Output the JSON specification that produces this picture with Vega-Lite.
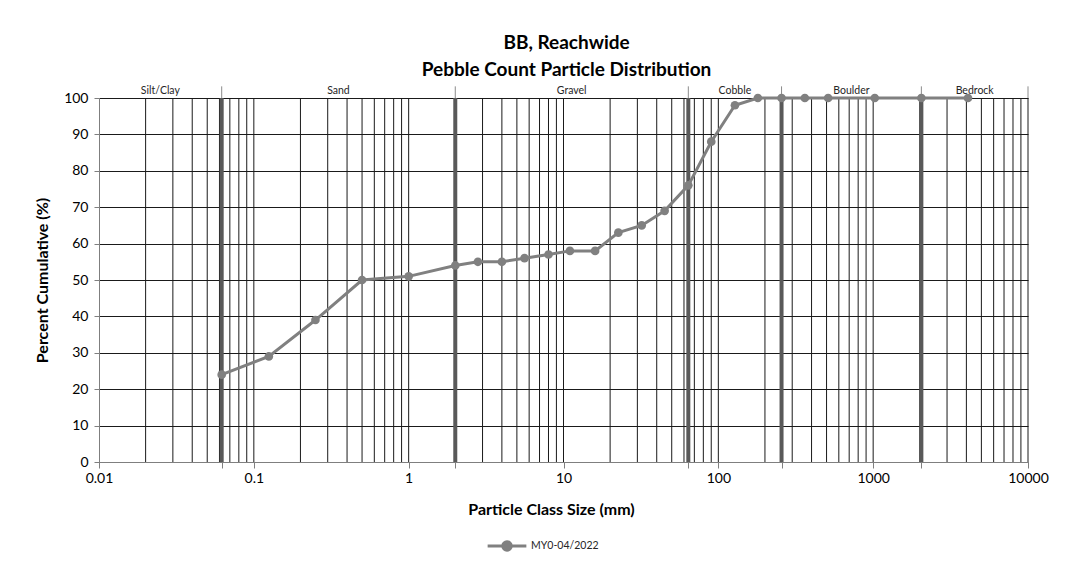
{
  "$schema": "https://vega.github.io/schema/vega-lite/v6.json",
  "width": 929,
  "height": 364,
  "autosize": "none",
  "padding": {"left": 99, "top": 98, "right": 44, "bottom": 106},
  "background": "white",
  "title": {
    "text": ["BB, Reachwide", "Pebble Count Particle Distribution"],
    "fontSize": 19,
    "fontWeight": "bold",
    "color": "#000000",
    "anchor": "middle",
    "offset": 6,
    "lineHeight": 27,
    "dx": 3
  },
  "datasets": {
    "grid": [
      {"size": 0.02}, {"size": 0.03}, {"size": 0.04}, {"size": 0.05}, {"size": 0.06}, {"size": 0.07}, {"size": 0.08}, {"size": 0.09}, {"size": 0.1},
      {"size": 0.2}, {"size": 0.3}, {"size": 0.4}, {"size": 0.5}, {"size": 0.6}, {"size": 0.7}, {"size": 0.8}, {"size": 0.9}, {"size": 1},
      {"size": 2}, {"size": 3}, {"size": 4}, {"size": 5}, {"size": 6}, {"size": 7}, {"size": 8}, {"size": 9}, {"size": 10},
      {"size": 20}, {"size": 30}, {"size": 40}, {"size": 50}, {"size": 60}, {"size": 70}, {"size": 80}, {"size": 90}, {"size": 100},
      {"size": 200}, {"size": 300}, {"size": 400}, {"size": 500}, {"size": 600}, {"size": 700}, {"size": 800}, {"size": 900}, {"size": 1000},
      {"size": 2000}, {"size": 3000}, {"size": 4000}, {"size": 5000}, {"size": 6000}, {"size": 7000}, {"size": 8000}, {"size": 9000}, {"size": 10000}
    ],
    "bounds": [
      {"size": 0.062}, {"size": 2}, {"size": 64}, {"size": 256}, {"size": 2048}
    ],
    "topticks": [
      {"size": 0.062}, {"size": 2}, {"size": 64}, {"size": 256}, {"size": 2048}, {"size": 10000}
    ],
    "classes": [
      {"size": 0.0249, "label": "Silt/Clay"},
      {"size": 0.352, "label": "Sand"},
      {"size": 11.3, "label": "Gravel"},
      {"size": 128, "label": "Cobble"},
      {"size": 724, "label": "Boulder"},
      {"size": 4525, "label": "Bedrock"}
    ],
    "counts": [
      {"size": 0.062, "pct": 24, "series": "MY0-04/2022"},
      {"size": 0.125, "pct": 29, "series": "MY0-04/2022"},
      {"size": 0.25, "pct": 39, "series": "MY0-04/2022"},
      {"size": 0.5, "pct": 50, "series": "MY0-04/2022"},
      {"size": 1, "pct": 51, "series": "MY0-04/2022"},
      {"size": 2, "pct": 54, "series": "MY0-04/2022"},
      {"size": 2.8, "pct": 55, "series": "MY0-04/2022"},
      {"size": 4, "pct": 55, "series": "MY0-04/2022"},
      {"size": 5.6, "pct": 56, "series": "MY0-04/2022"},
      {"size": 8, "pct": 57, "series": "MY0-04/2022"},
      {"size": 11, "pct": 58, "series": "MY0-04/2022"},
      {"size": 16, "pct": 58, "series": "MY0-04/2022"},
      {"size": 22.6, "pct": 63, "series": "MY0-04/2022"},
      {"size": 32, "pct": 65, "series": "MY0-04/2022"},
      {"size": 45, "pct": 69, "series": "MY0-04/2022"},
      {"size": 64, "pct": 76, "series": "MY0-04/2022"},
      {"size": 90, "pct": 88, "series": "MY0-04/2022"},
      {"size": 128, "pct": 98, "series": "MY0-04/2022"},
      {"size": 180, "pct": 100, "series": "MY0-04/2022"},
      {"size": 256, "pct": 100, "series": "MY0-04/2022"},
      {"size": 362, "pct": 100, "series": "MY0-04/2022"},
      {"size": 512, "pct": 100, "series": "MY0-04/2022"},
      {"size": 1024, "pct": 100, "series": "MY0-04/2022"},
      {"size": 2048, "pct": 100, "series": "MY0-04/2022"},
      {"size": 4096, "pct": 100, "series": "MY0-04/2022"}
    ]
  },
  "encoding": {
    "x": {
      "field": "size",
      "type": "quantitative",
      "scale": {"type": "log", "domain": [0.01, 10000], "nice": false},
      "axis": {
        "values": [0.01, 0.062, 0.1, 1, 2, 10, 64, 100, 256, 1000, 2048, 10000],
        "labelExpr": "indexof([0.01, 0.1, 1, 10, 100, 1000, 10000], datum.value) >= 0 ? format(datum.value, '~g') : ''",
        "grid": false,
        "tickSize": 6,
        "tickColor": "#7f7f7f",
        "domainColor": "#7f7f7f",
        "labelFontSize": 14,
        "labelColor": "#000000",
        "labelPadding": 3,
        "labelFlush": false,
        "labelOverlap": false,
        "title": "Particle Class Size (mm)",
        "titleFontSize": 16,
        "titleFontWeight": "bold",
        "titleColor": "#000000",
        "titlePadding": 16,
        "titleX": 452
      }
    }
  },
  "layer": [
    {
      "data": {"name": "grid"},
      "mark": {"type": "rule", "color": "#1a1a1a", "strokeWidth": 1},
      "encoding": {
        "y": {
          "datum": 0,
          "type": "quantitative",
          "scale": {"domain": [0, 100], "nice": false},
          "axis": {
            "values": [0, 10, 20, 30, 40, 50, 60, 70, 80, 90, 100],
            "labelOverlap": false,
            "grid": true,
            "gridColor": "#1a1a1a",
            "gridWidth": 1,
            "gridOpacity": 1,
            "tickSize": 5,
            "tickColor": "#7f7f7f",
            "domainColor": "#7f7f7f",
            "labelFontSize": 14,
            "labelColor": "#000000",
            "labelPadding": 6,
            "labelFlush": false,
            "title": "Percent Cumulative (%)",
            "titleFontSize": 16,
            "titleFontWeight": "bold",
            "titleColor": "#000000",
            "titlePadding": 13
          }
        },
        "y2": {"datum": 100}
      }
    },
    {
      "data": {"name": "bounds"},
      "mark": {"type": "rule", "color": "#595959", "strokeWidth": 4},
      "encoding": {
        "y": {
          "datum": 0,
          "type": "quantitative",
          "axis": {
            "values": [0, 10, 20, 30, 40, 50, 60, 70, 80, 90, 100],
            "labelOverlap": false,
            "grid": true,
            "gridColor": "#1a1a1a",
            "gridWidth": 1,
            "gridOpacity": 1,
            "tickSize": 5,
            "tickColor": "#7f7f7f",
            "domainColor": "#7f7f7f",
            "labelFontSize": 14,
            "labelColor": "#000000",
            "labelPadding": 6,
            "labelFlush": false,
            "title": "Percent Cumulative (%)",
            "titleFontSize": 16,
            "titleFontWeight": "bold",
            "titleColor": "#000000",
            "titlePadding": 13
          }
        },
        "y2": {"datum": 100}
      }
    },
    {
      "data": {"name": "topticks"},
      "mark": {"type": "rule", "color": "#8c8c8c", "strokeWidth": 1},
      "encoding": {
        "y": {
          "datum": 100,
          "type": "quantitative",
          "axis": {
            "values": [0, 10, 20, 30, 40, 50, 60, 70, 80, 90, 100],
            "labelOverlap": false,
            "grid": true,
            "gridColor": "#1a1a1a",
            "gridWidth": 1,
            "gridOpacity": 1,
            "tickSize": 5,
            "tickColor": "#7f7f7f",
            "domainColor": "#7f7f7f",
            "labelFontSize": 14,
            "labelColor": "#000000",
            "labelPadding": 6,
            "labelFlush": false,
            "title": "Percent Cumulative (%)",
            "titleFontSize": 16,
            "titleFontWeight": "bold",
            "titleColor": "#000000",
            "titlePadding": 13
          }
        },
        "y2": {"datum": 103.2}
      }
    },
    {
      "data": {"name": "classes"},
      "mark": {"type": "text", "fontSize": 10.5, "color": "#262626", "baseline": "alphabetic", "dy": -4},
      "encoding": {
        "y": {
          "datum": 100,
          "type": "quantitative",
          "axis": {
            "values": [0, 10, 20, 30, 40, 50, 60, 70, 80, 90, 100],
            "labelOverlap": false,
            "grid": true,
            "gridColor": "#1a1a1a",
            "gridWidth": 1,
            "gridOpacity": 1,
            "tickSize": 5,
            "tickColor": "#7f7f7f",
            "domainColor": "#7f7f7f",
            "labelFontSize": 14,
            "labelColor": "#000000",
            "labelPadding": 6,
            "labelFlush": false,
            "title": "Percent Cumulative (%)",
            "titleFontSize": 16,
            "titleFontWeight": "bold",
            "titleColor": "#000000",
            "titlePadding": 13
          }
        },
        "text": {"field": "label"}
      }
    },
    {
      "data": {"name": "counts"},
      "mark": {"type": "line", "strokeWidth": 3, "point": {"filled": true, "size": 75, "opacity": 1}},
      "encoding": {
        "y": {
          "field": "pct",
          "type": "quantitative",
          "axis": {
            "values": [0, 10, 20, 30, 40, 50, 60, 70, 80, 90, 100],
            "labelOverlap": false,
            "grid": true,
            "gridColor": "#1a1a1a",
            "gridWidth": 1,
            "gridOpacity": 1,
            "tickSize": 5,
            "tickColor": "#7f7f7f",
            "domainColor": "#7f7f7f",
            "labelFontSize": 14,
            "labelColor": "#000000",
            "labelPadding": 6,
            "labelFlush": false,
            "title": "Percent Cumulative (%)",
            "titleFontSize": 16,
            "titleFontWeight": "bold",
            "titleColor": "#000000",
            "titlePadding": 13
          }
        },
        "color": {
          "field": "series",
          "type": "nominal",
          "scale": {"range": ["#808080"]},
          "legend": {
            "title": null,
            "orient": "none",
            "legendX": 387,
            "legendY": 427,
            "symbolType": "M-1,0L1,0M-0.22,0A0.22,0.22,0,1,1,0.22,0A0.22,0.22,0,1,1,-0.22,0Z",
            "symbolSize": 1500,
            "symbolStrokeWidth": 3,
            "symbolFillColor": "#808080",
            "symbolStrokeColor": "#808080",
            "labelFontSize": 10.5,
            "labelColor": "#262626",
            "labelOffset": 3
          }
        }
      }
    }
  ],
  "config": {
    "font": "Lato",
    "view": {"stroke": null}
  }
}
